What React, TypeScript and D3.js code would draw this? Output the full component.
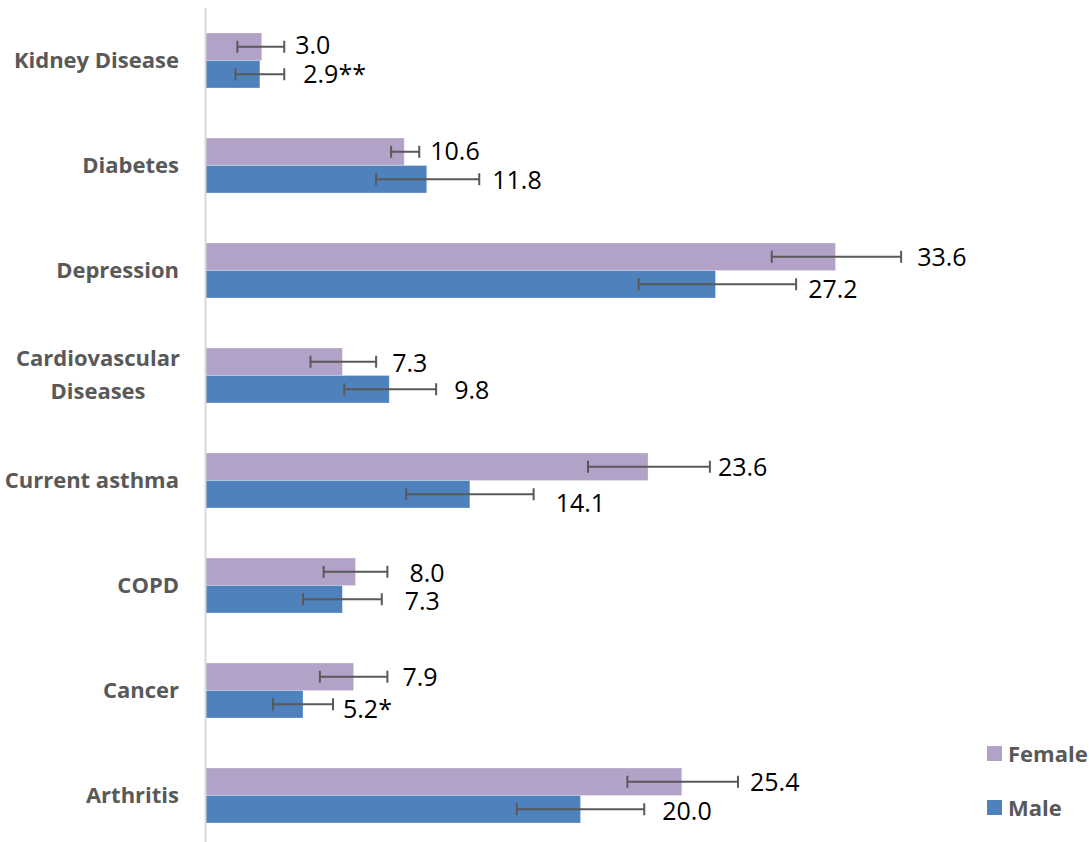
import React from "react";
import * as d3 from "d3";

// Prevalence of chronic conditions by sex (%), with 95% confidence intervals
const categories = [
  "Kidney Disease",
  "Diabetes",
  "Depression",
  "Cardiovascular Diseases",
  "Current asthma",
  "COPD",
  "Cancer",
  "Arthritis",
];
const series = ["Female", "Male"];

const femaleValues = [3.0, 10.6, 33.6, 7.3, 23.6, 8.0, 7.9, 25.4];
const maleValues = [2.9, 11.8, 27.2, 9.8, 14.1, 7.3, 5.2, 20.0];

const femaleLow = [1.7, 9.9, 30.2, 5.6, 20.4, 6.3, 6.1, 22.5];
const femaleHigh = [4.2, 11.4, 37.1, 9.1, 26.9, 9.7, 9.7, 28.4];
const maleLow = [1.6, 9.1, 23.1, 7.4, 10.7, 5.2, 3.6, 16.6];
const maleHigh = [4.2, 14.6, 31.5, 12.3, 17.5, 9.4, 6.8, 23.4];

// reliability flags appended to the male estimates
const maleFlags = ["**", "", "", "", "", "", "*", ""];

// hand-placed label nudges (px) relative to the end of each error bar
const femaleLabelDx = [11, 11, 16, 16, 8, 22, 15, 12];
const maleLabelDx = [19, 13, 12, 18, 22, 23, 10, 18];
const femaleLabelDy = [-2, -1, 0, 1, 0, 1, 0, 0];
const maleLabelDy = [0, 1, 5, 1, 8.5, 2, 5, 2];

const colors: Record<string, string> = { Female: "#B3A2C7", Male: "#4F81BD" };

const W = 1089;
const H = 842;
const LABEL_FONT = "'Open Sans', 'DejaVu Sans', sans-serif";
const CAT_SIZE = 22;

export default function App() {
  const x = d3.scaleLinear().domain([0, 40]).range([205.5, 205.5 + 18.75 * 40]);
  const y = d3
    .scaleBand<string>()
    .domain(categories)
    .range([8, 848])
    .paddingInner(0.4762)
    .paddingOuter(0.2381);
  const ys = d3.scaleBand<string>().domain(series).range([0, y.bandwidth()]);

  const rows = categories.map((c, i) => ({
    category: c,
    bars: [
      {
        key: "Female",
        value: femaleValues[i],
        lo: femaleLow[i],
        hi: femaleHigh[i],
        label: femaleValues[i].toFixed(1),
        dx: femaleLabelDx[i],
        dy: femaleLabelDy[i],
      },
      {
        key: "Male",
        value: maleValues[i],
        lo: maleLow[i],
        hi: maleHigh[i],
        label: maleValues[i].toFixed(1) + maleFlags[i],
        dx: maleLabelDx[i],
        dy: maleLabelDy[i],
      },
    ],
  }));

  const capH = 12;

  return (
    <div style={{ position: "absolute", left: 0, top: 0 }}>
      <svg width={W} height={H} style={{ display: "block", overflow: "hidden", background: "#fff" }}>
        <rect x={0} y={0} width={W} height={H} fill="#ffffff" />

        {rows.map((r) => {
          const y0 = y(r.category)!;
          const center = y0 + y.bandwidth() / 2;
          const words = r.category === "Cardiovascular Diseases" ? ["Cardiovascular", "Diseases"] : [r.category];
          return (
            <g key={r.category}>
              {/* category label */}
              {words.length === 1 ? (
                <text
                  x={179}
                  y={center + 7.5}
                  textAnchor="end"
                  fontFamily={LABEL_FONT}
                  fontWeight={700}
                  fontSize={CAT_SIZE}
                  fill="#595959"
                >
                  {words[0]}
                </text>
              ) : (
                <text
                  textAnchor="middle"
                  fontFamily={LABEL_FONT}
                  fontWeight={700}
                  fontSize={CAT_SIZE}
                  fill="#595959"
                >
                  <tspan x={98} y={center - 9.3}>
                    {words[0]}
                  </tspan>
                  <tspan x={98} y={center + 23.3}>
                    {words[1]}
                  </tspan>
                </text>
              )}

              {r.bars.map((b) => {
                const by = y0 + ys(b.key)!;
                const bh = ys.bandwidth();
                return (
                  <rect
                    key={b.key}
                    x={x(0)}
                    y={by}
                    width={x(b.value) - x(0)}
                    height={bh}
                    fill={colors[b.key]}
                    stroke="#ffffff"
                    strokeOpacity={0.35}
                    strokeWidth={0.8}
                  />
                );
              })}
              {r.bars.map((b) => {
                const by = y0 + ys(b.key)!;
                const cy = by + ys.bandwidth() / 2;
                return (
                  <g key={b.key + "-err"} stroke="#595959" strokeWidth={2}>
                    <line x1={x(b.lo)} x2={x(b.hi)} y1={cy} y2={cy} />
                    <line x1={x(b.lo)} x2={x(b.lo)} y1={cy - capH / 2} y2={cy + capH / 2} />
                    <line x1={x(b.hi)} x2={x(b.hi)} y1={cy - capH / 2} y2={cy + capH / 2} />
                  </g>
                );
              })}
              {r.bars.map((b) => {
                const by = y0 + ys(b.key)!;
                const cy = by + ys.bandwidth() / 2;
                return (
                  <text
                    key={b.key + "-lbl"}
                    x={x(b.hi) + b.dx}
                    y={cy + b.dy + 9}
                    fontFamily={LABEL_FONT}
                    fontSize={25}
                    fill="#000000"
                  >
                    {b.label}
                  </text>
                );
              })}
            </g>
          );
        })}

        {/* category axis line */}
        <line x1={x(0)} x2={x(0)} y1={8} y2={H} stroke="#D9D9D9" strokeWidth={2} />

        {/* legend */}
        {series.map((s, i) => (
          <g key={s} transform={`translate(987, ${746 + i * 54})`}>
            <rect x={0} y={0} width={15} height={15} fill={colors[s]} />
            <text x={21} y={15.5} fontFamily={LABEL_FONT} fontWeight={700} fontSize={CAT_SIZE} fill="#595959">
              {s}
            </text>
          </g>
        ))}
      </svg>
    </div>
  );
}
